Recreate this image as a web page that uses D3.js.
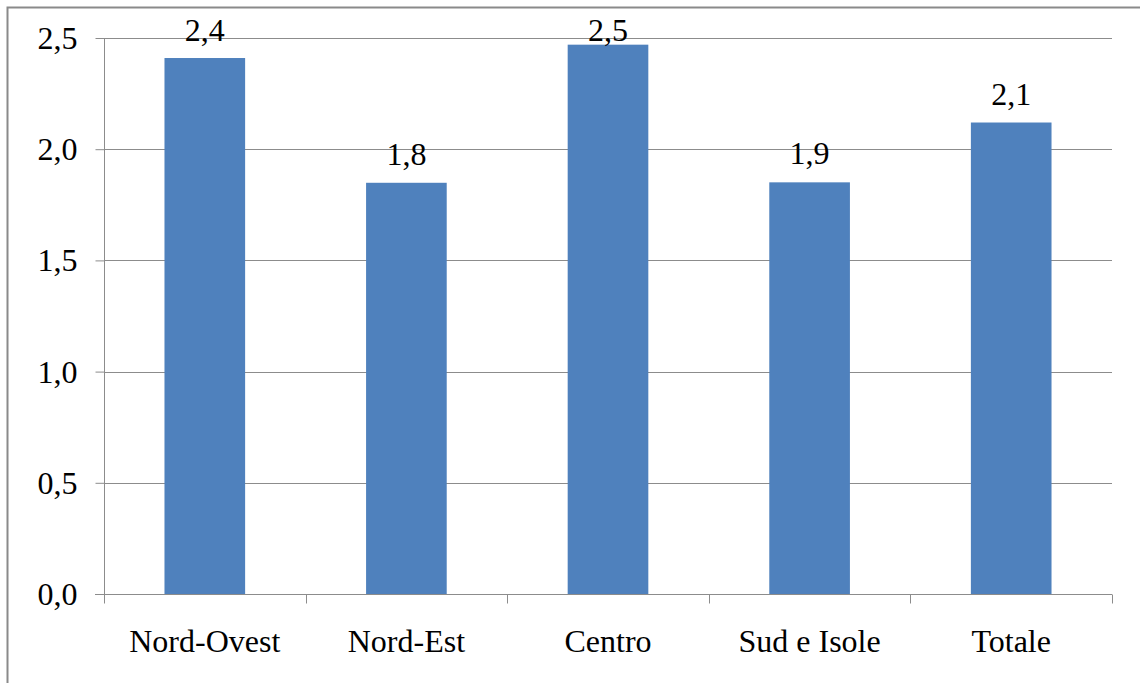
<!DOCTYPE html>
<html>
<head>
<meta charset="utf-8">
<script src="https://cdn.jsdelivr.net/npm/d3@7"></script>
<style>
  html, body { margin: 0; padding: 0; background: #fff; }
  svg { display: block; }
  svg text { font-family: 'Liberation Serif' !important; font-size: 32px; fill: #000; }
</style>
</head>
<body>
<svg id="chart" width="1140" height="683"></svg>
<script>
// Regional values
const categories = ["Nord-Ovest", "Nord-Est", "Centro", "Sud e Isole", "Totale"];
const values = [2.41, 1.849, 2.47, 1.851, 2.12];
const yTicks = [0, 0.5, 1.0, 1.5, 2.0, 2.5];

const svg = d3.select("#chart");
const W = 1140, H = 683;
const margin = { left: 104, right: 28, top: 38, bottom: 89 };
const fmt = v => v.toFixed(1).replace(".", ",");

// Outer frame
svg.append("rect")
  .attr("x", 7.5).attr("y", 7.5)
  .attr("width", W + 20).attr("height", H + 20)
  .attr("fill", "#fff")
  .attr("stroke", "#8a8a8a").attr("stroke-width", 2);

const x = d3.scaleBand()
  .domain(categories)
  .range([margin.left, W - margin.right])
  .paddingInner(0.6).paddingOuter(0.3);

const y = d3.scaleLinear()
  .domain([0, 2.5])
  .range([H - margin.bottom, margin.top]);

// Horizontal gridlines
svg.append("g")
  .selectAll("line")
  .data(yTicks.filter(d => d > 0))
  .join("line")
  .attr("x1", margin.left).attr("x2", W - margin.right)
  .attr("y1", d => Math.round(y(d)) + 0.5).attr("y2", d => Math.round(y(d)) + 0.5)
  .attr("stroke", "#8c8c8c").attr("stroke-width", 1);

// Y axis
const yAxis = svg.append("g")
  .attr("transform", `translate(${margin.left + 0.5},0)`)
  .call(d3.axisLeft(y).tickValues(yTicks).tickFormat(fmt).tickSize(9).tickPadding(18));
yAxis.attr("font-family", null).attr("font-size", null);
yAxis.selectAll("path, line").attr("stroke", "#8c8c8c");
yAxis.select(".domain").attr("d", `M0,${y(2.5)}V${y(0)}`);
yAxis.selectAll("text").attr("dy", "0.33em");

// X axis with boundary ticks between categories
const xAxisG = svg.append("g")
  .attr("transform", `translate(0,${Math.round(y(0)) + 0.5})`);
xAxisG.append("line")
  .attr("x1", margin.left - 9).attr("x2", W - margin.right)
  .attr("stroke", "#8c8c8c");
const bounds = d3.range(categories.length + 1).map(i => margin.left + i * (W - margin.left - margin.right) / categories.length);
xAxisG.selectAll(".tk")
  .data(bounds)
  .join("line")
  .attr("class", "tk")
  .attr("x1", d => Math.round(d) + 0.5).attr("x2", d => Math.round(d) + 0.5)
  .attr("y1", 0).attr("y2", 9)
  .attr("stroke", "#8c8c8c");
xAxisG.selectAll(".lbl")
  .data(categories)
  .join("text")
  .attr("class", "lbl")
  .attr("x", d => x(d) + x.bandwidth() / 2)
  .attr("y", 57)
  .attr("text-anchor", "middle")
  .text(d => d);

// Bars
svg.append("g")
  .selectAll("rect")
  .data(values)
  .join("rect")
  .attr("x", (d, i) => x(categories[i]))
  .attr("y", d => y(d))
  .attr("width", x.bandwidth())
  .attr("height", d => y(0) - y(d))
  .attr("fill", "#4f81bd");

// Value labels, kept inside the plot area at the top
svg.append("g")
  .selectAll("text")
  .data(values)
  .join("text")
  .attr("x", (d, i) => x(categories[i]) + x.bandwidth() / 2)
  .attr("y", d => Math.max(y(d) - 18, margin.top + 3))
  .attr("text-anchor", "middle")
  .text(fmt);
</script>
</body>
</html>
